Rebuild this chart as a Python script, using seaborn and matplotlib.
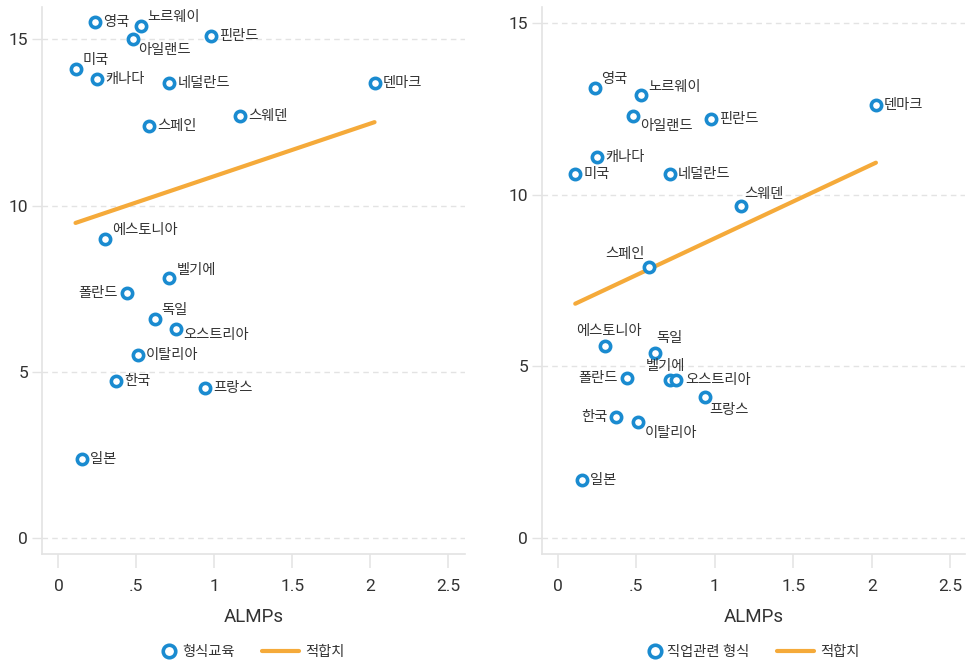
import matplotlib
matplotlib.use("Agg")
import matplotlib.pyplot as plt
import seaborn as sns
import pandas as pd
from matplotlib.lines import Line2D
from matplotlib.legend_handler import HandlerLine2D

countries = ["영국", "노르웨이", "아일랜드", "핀란드", "미국", "캐나다", "네덜란드", "덴마크",
             "스웨덴", "스페인", "에스토니아", "벨기에", "폴란드", "독일", "오스트리아",
             "이탈리아", "한국", "프랑스", "일본"]
almps = [0.233, 0.532, 0.478, 0.978, 0.110, 0.248, 0.712, 2.027,
         1.165, 0.581, 0.300, 0.712, 0.438, 0.618, 0.754,
         0.511, 0.370, 0.940, 0.150]
formal_edu = [15.51, 15.40, 15.00, 15.10, 14.10, 13.80, 13.68, 13.68,
              12.69, 12.39, 9.00, 7.81, 7.38, 6.58, 6.28,
              5.49, 4.71, 4.51, 2.38]
vocational = [13.10, 12.89, 12.30, 12.19, 10.61, 11.10, 10.61, 12.60,
              9.68, 7.90, 5.59, 4.60, 4.67, 5.40, 4.60,
              3.38, 3.51, 4.11, 1.68]
legend_left = ["형식교육", "적합치"]
legend_right = ["직업관련 형식", "적합치"]
x_label = "ALMPs"
x_ticks = [0, 0.5, 1, 1.5, 2, 2.5]
x_tick_labels = ["0", ".5", "1", "1.5", "2", "2.5"]
y_ticks = [0, 5, 10, 15]

# label offsets in pixels (dx, dy, ha)
R = (8, 0, "left")
offs_left = {
    "노르웨이": (6, 9, "left"), "아일랜드": (5, -11, "left"), "미국": (7, 9, "left"),
    "에스토니아": (7, 9, "left"), "벨기에": (7, 8, "left"), "폴란드": (-9, 0, "right"),
    "독일": (7, 9, "left"), "오스트리아": (7, -6, "left"),
}
offs_right = {
    "영국": (7, 9, "left"), "노르웨이": (7, 8, "left"), "아일랜드": (7, -10, "left"),
    "스웨덴": (4, 12, "left"), "스페인": (-4, 13, "right"), "에스토니아": (4, 15, "center"),
    "독일": (1, 15, "left"), "폴란드": (-9, 0, "right"), "벨기에": (-4, 14, "center"),
    "오스트리아": (9, 0, "left"), "프랑스": (4, -13, "left"), "한국": (-9, 0, "right"),
    "이탈리아": (7, -11, "left"),
}

df = pd.DataFrame({"country": countries, "almps": almps,
                   "formal": formal_edu, "voc": vocational})

sns.set_theme(style="white")
plt.rcParams['font.family'] = ['Roboto', 'Noto Sans CJK KR', 'DejaVu Sans']

BLUE = "#1a8bd0"
ORANGE = "#f5aa3a"
GRID = "#e3e3e3"
TXT = "#333333"


class RightMarkerHandler(HandlerLine2D):
    def create_artists(self, legend, orig_handle, xdescent, ydescent, width,
                       height, fontsize, trans):
        arts = super().create_artists(legend, orig_handle, xdescent, ydescent,
                                      width, height, fontsize, trans)
        for a in arts:
            a.set_xdata([width - xdescent - 4.5])
        return arts


fig = plt.figure(figsize=(9.66, 6.66), dpi=100)
axL = fig.add_axes([42/966, 1-554/666, 423/966, 547/666])
axR = fig.add_axes([542/966, 1-554/666, 423/966, 547/666])

panels = [(axL, "formal", offs_left, legend_left, (-0.105, 2.607), (-0.48, 15.97)),
          (axR, "voc", offs_right, legend_right, (-0.102, 2.595), (-0.466, 15.46))]

for ax, col, offs, leg, xl, yl in panels:
    sns.regplot(data=df, x="almps", y=col, ax=ax, scatter=False, ci=None,
                truncate=True, line_kws=dict(color=ORANGE, lw=3, solid_capstyle="round", zorder=2))
    sns.scatterplot(data=df, x="almps", y=col, ax=ax, s=55, marker="o",
                    facecolors="white", edgecolor=BLUE, linewidth=2.6, zorder=3)
    for c, xv, yv in zip(df["country"], df["almps"], df[col]):
        dx, dy, ha = offs.get(c, R)
        ax.annotate(c, (xv, yv), xytext=(dx, dy), textcoords="offset pixels",
                    ha=ha, va="center", fontsize=10.3, color=TXT, zorder=4)
    ax.set_xlim(*xl)
    ax.set_ylim(*yl)
    ax.set_xticks(x_ticks)
    ax.set_xticklabels(x_tick_labels)
    ax.set_yticks(y_ticks)
    ax.set_xlabel(x_label, fontsize=13.5, color=TXT, labelpad=10)
    ax.set_ylabel("")
    ax.grid(axis="y", color=GRID, linestyle=(0, (4, 3)), linewidth=1)
    ax.grid(axis="x", visible=False)
    for s in ["top", "right"]:
        ax.spines[s].set_visible(False)
    for s in ["left", "bottom"]:
        ax.spines[s].set_color(GRID)
        ax.spines[s].set_linewidth(1.2)
    ax.tick_params(axis="x", length=10, width=1.1, color=GRID, labelsize=12.5,
                   labelcolor=TXT, pad=8, bottom=True)
    ax.tick_params(axis="y", length=7, width=1, color=GRID, labelsize=12.5,
                   labelcolor=TXT, pad=3, left=True)
    mk = Line2D([], [], marker="o", linestyle="none", markersize=9,
                markerfacecolor="white", markeredgecolor=BLUE, markeredgewidth=2.6)
    ln = Line2D([], [], color=ORANGE, lw=3)
    ax.legend([mk, ln], leg, loc="center", bbox_to_anchor=(0.472, -0.18), ncol=2,
              frameon=False, fontsize=10.3, columnspacing=1.9, handlelength=2.6,
              handletextpad=0.45, labelcolor=TXT,
              handler_map={mk: RightMarkerHandler(numpoints=1)})

fig.savefig("out.png", dpi=100)
